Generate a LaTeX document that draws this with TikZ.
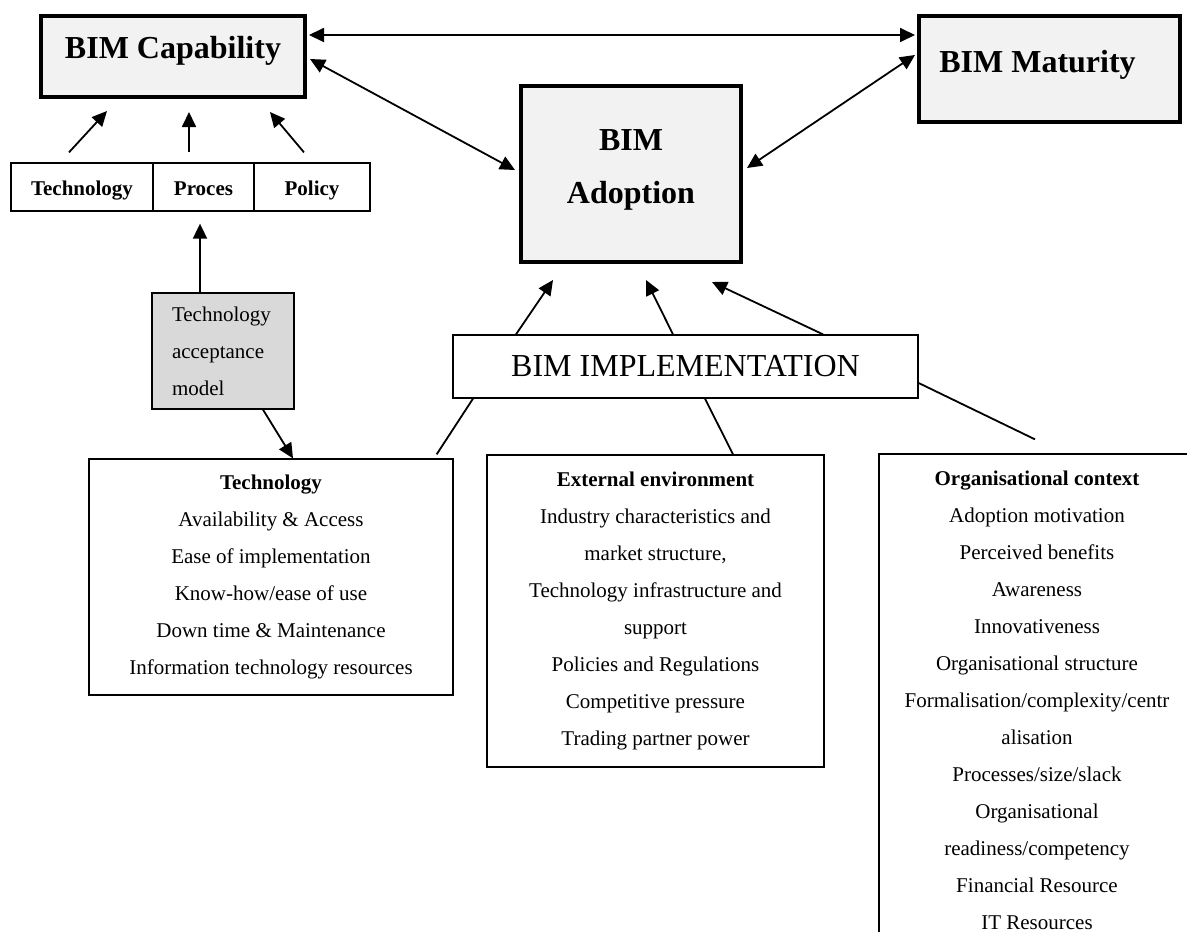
\documentclass[tikz,border=0pt]{standalone}
\usepackage{fontspec}
\setmainfont{Liberation Serif}
\usetikzlibrary{arrows.meta}
\definecolor{boxgray}{HTML}{F2F2F2}
\definecolor{tamgray}{HTML}{D9D9D9}
\begin{document}
\begin{tikzpicture}[x=1pt,y=-1pt,
  bigfont/.style={font=\fontsize{32}{53}\selectfont\bfseries},
  body/.style={font=\fontsize{21}{37}\selectfont},
  thickbox/.style={draw, line width=4pt, fill=boxgray, inner sep=0pt},
  plainbox/.style={draw, line width=1.3pt, fill=white, inner sep=0pt, align=center, body},
  fieldbox/.style={plainbox, font=\fontsize{21}{25}\selectfont\bfseries, text height=18pt, text depth=1pt, minimum height=48pt},
  link/.style={line width=1.8pt, -{Triangle[length=15pt,width=14pt]}},
  twoway/.style={line width=1.8pt, {Triangle[length=15pt,width=14pt]}-{Triangle[length=15pt,width=14pt]}},
  plain/.style={line width=1.8pt}]

\fill[white] (0,0) rectangle (1187,932);
\useasboundingbox (0,0) rectangle (1187,932);
\clip (0,0) rectangle (1187,932);

% --- the three main concepts ---
\node[thickbox, minimum width=264pt, minimum height=81pt,
      label={[bigfont, yshift=6pt]center:BIM Capability}] (cap) at (173,56.5) {};
\node[thickbox, minimum width=261pt, minimum height=106pt,
      label={[bigfont, xshift=-12pt, yshift=4pt]center:BIM Maturity}] (mat) at (1049.5,69) {};
\node[thickbox, minimum width=220pt, minimum height=176pt,
      label={[bigfont, align=center, yshift=4pt]center:BIM\\Adoption}] (adopt) at (631,174) {};

% --- capability fields ---
\node[fieldbox, minimum width=142pt] (rtech) at (82,187) {Technology};
\node[fieldbox, minimum width=101pt] (rproc) at (203.5,187) {Proces};
\node[fieldbox, minimum width=116pt] (rpol) at (312,187) {Policy};

% --- technology acceptance model ---
\node[draw, line width=1.3pt, fill=tamgray, inner xsep=20pt, inner ysep=0pt,
      text width=102pt, align=left, minimum height=116pt, body] (tam) at (223,351)
      {Technology\\acceptance\\model};

% --- implementation ---
\node[plainbox, font=\fontsize{32}{38}\selectfont, minimum width=465pt, minimum height=63pt] (impl) at (685.5,366.5) {BIM IMPLEMENTATION};

% --- implementation factors ---
\node[plainbox, minimum width=364pt, minimum height=236pt] (techbox) at (271,577)
  {\textbf{Technology}\\Availability \& Access\\Ease of implementation\\Know-how/ease of use\\Down time \& Maintenance\\Information technology resources};
\node[plainbox, minimum width=337pt, minimum height=312pt] (extbox) at (655.5,611)
  {\textbf{External environment}\\Industry characteristics and\\market structure,\\Technology infrastructure and\\support\\Policies and Regulations\\Competitive pressure\\Trading partner power};
\node[plainbox, minimum width=316pt, minimum height=492pt] (orgbox) at (1037,700)
  {\textbf{Organisational context}\\Adoption motivation\\Perceived benefits\\Awareness\\Innovativeness\\Organisational structure\\Formalisation/complexity/centr\\alisation\\Processes/size/slack\\Organisational\\readiness/competency\\Financial Resource\\IT Resources};

% --- relations between the main concepts ---
\draw[twoway] ([shift={(2pt,21.5pt)}]cap.east) -- ([shift={(-2pt,34pt)}]mat.west);
\draw[twoway] ([shift={(3pt,-2.5pt)}]cap.east) -- ([shift={(-4pt,4pt)}]adopt.west);
\draw[twoway] ([shift={(-2pt,14pt)}]mat.west) -- ([shift={(4pt,6pt)}]adopt.east);

% --- fields feed capability ---
\draw[link] ([shift={(-13pt,10pt)}]rtech.north) -- ([shift={(-66pt,-12pt)}]cap.south);
\draw[link] ([shift={(-14.5pt,10pt)}]rproc.north) -- ([shift={(16pt,-13pt)}]cap.south);
\draw[link] ([shift={(-8pt,10pt)}]rpol.north) -- ([shift={(97pt,-13pt)}]cap.south);

% --- acceptance model ---
\draw[link] ([xshift=-23pt]tam.north) -- ([shift={(-3.5pt,-12pt)}]rproc.south);
\draw[link] ([xshift=40pt]tam.south) -- ([xshift=22pt]techbox.north);

% --- implementation drives adoption ---
\draw[link] ([xshift=-169.5pt]impl.north) -- ([shift={(-78pt,-16pt)}]adopt.south);
\draw[link] ([xshift=-12.5pt]impl.north) -- ([shift={(15pt,-16pt)}]adopt.south);
\draw[link] ([xshift=137.5pt]impl.north) -- ([shift={(81pt,-18pt)}]adopt.south);

% --- factor groups ---
\draw[plain] ([xshift=-212.5pt]impl.south) -- ([shift={(-17pt,4pt)}]techbox.north east);
\draw[plain] ([xshift=19.5pt]impl.south) -- ([xshift=77.5pt]extbox.north);
\draw[plain] ([yshift=-16.5pt]impl.east) -- ([shift={(-2pt,14pt)}]orgbox.north);

\end{tikzpicture}
\end{document}
